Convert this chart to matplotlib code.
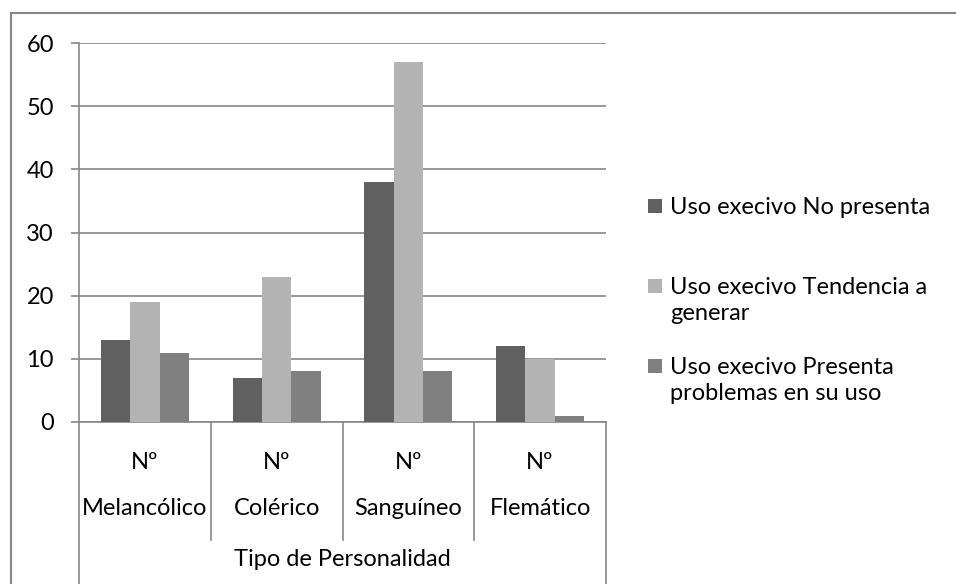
import numpy as np
import matplotlib.pyplot as plt
from matplotlib.patches import Rectangle
from matplotlib.lines import Line2D
import matplotlib.transforms as mtransforms

categorias = ['Melancólico', 'Colérico', 'Sanguíneo', 'Flemático']
series = [['Uso execivo No presenta'],
          ['Uso execivo Tendencia a', 'generar'],
          ['Uso execivo Presenta', 'problemas en su uso']]
no_presenta = [13, 7, 38, 12]
tendencia = [19, 23, 57, 10]
presenta = [11, 8, 8, 1]
colores = ['#606060', '#b3b3b3', '#808080']
yticks = [0, 10, 20, 30, 40, 50, 60]

plt.rcParams['font.family'] = ['Lato', 'DejaVu Sans']
FS = 17
W, H = 956, 584
fig = plt.figure(figsize=(W / 100, H / 100), dpi=100)
ax = fig.add_axes([79 / W, (H - 422) / H, (606 - 79) / W, (422 - 43) / H])

grid_c = '#868686'
x = np.arange(len(categorias))
bw = 1 / 4.5
for k, vals in enumerate([no_presenta, tendencia, presenta]):
    ax.bar(x + (k - 1) * bw, vals, width=bw, color=colores[k], zorder=3)

ax.set_xlim(-0.5, len(categorias) - 0.5)
ax.set_ylim(0, 60)
ax.set_yticks(yticks)
ax.set_yticklabels([str(t) for t in yticks], fontsize=FS)
ax.set_xticks([])
ax.yaxis.grid(True, color=grid_c, linewidth=1.2, zorder=0)
ax.tick_params(axis='y', length=6, color=grid_c, width=1.2, pad=12)
for s in ['top', 'right']:
    ax.spines[s].set_visible(False)
ax.spines['left'].set_color(grid_c)
ax.spines['bottom'].set_color(grid_c)
ax.spines['left'].set_linewidth(1.2)
ax.spines['bottom'].set_linewidth(1.2)

# multi-level category axis
tr = mtransforms.blended_transform_factory(ax.transData, ax.transAxes)
for i, c in enumerate(categorias):
    ax.text(i, -0.108, 'Nº', transform=tr, ha='center', va='center', fontsize=FS)
    ax.text(i, -0.227, c, transform=tr, ha='center', va='center', fontsize=FS)
ax.text(np.mean(x), -0.364, 'Tipo de Personalidad', transform=tr,
        ha='center', va='center', fontsize=FS)
for b in np.arange(len(categorias) + 1) - 0.5:
    y_end = -0.43 if b in (-0.5, len(categorias) - 0.5) else -0.311
    ax.add_line(Line2D([b, b], [0, y_end], transform=tr, color=grid_c,
                       linewidth=1.2, clip_on=False))

# legend
leg_y = [205.5, 285.5, 365.5]
for k, lines in enumerate(series):
    yc = leg_y[k]
    fig.add_artist(Rectangle((648 / W, 1 - (yc + 7) / H), 14 / W, 14 / H,
                             facecolor=colores[k], edgecolor='none',
                             transform=fig.transFigure))
    for j, txt in enumerate(lines):
        fig.text(670 / W, 1 - (yc + 8 + 26 * j) / H, txt, ha='left',
                 va='baseline', fontsize=FS, transform=fig.transFigure)

# outer chart border
fig.add_artist(Line2D([11 / W, 11 / W], [0, 1 - 13 / H], color=grid_c,
                      linewidth=1.5, transform=fig.transFigure))
fig.add_artist(Line2D([11 / W, 1], [1 - 13 / H, 1 - 13 / H], color=grid_c,
                      linewidth=1.5, transform=fig.transFigure))

plt.savefig('out.png', dpi=100)
